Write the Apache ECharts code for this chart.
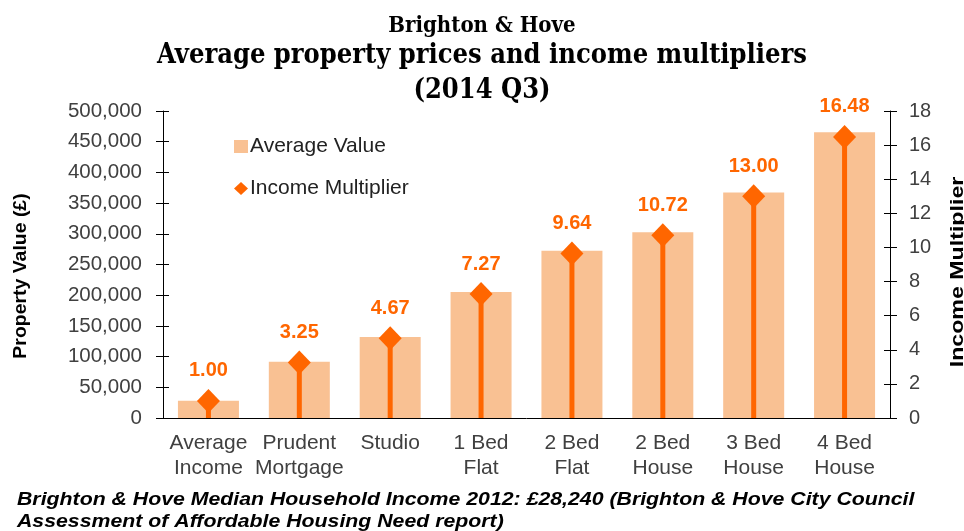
<!DOCTYPE html>
<html>
<head>
<meta charset="utf-8">
<script src="https://cdn.jsdelivr.net/npm/echarts@6/dist/echarts.min.js"></script>
<style>
  html, body { margin: 0; padding: 0; background: #fff; }
  #chart { width: 964px; height: 531px; }
</style>
</head>
<body>
<div id="chart"></div>
<script>
// categories on the x axis
const categories = ['Average\nIncome', 'Prudent\nMortgage', 'Studio', '1 Bed\nFlat', '2 Bed\nFlat', '2 Bed\nHouse', '3 Bed\nHouse', '4 Bed\nHouse']
// average property value (£)
const averageValue = [28240, 91780, 131900, 205300, 272200, 302700, 367100, 465400]
// income multiplier
const incomeMultiplier = [1.00, 3.25, 4.67, 7.27, 9.64, 10.72, 13.00, 16.48]

const barColor = '#F9C193'
const lineColor = '#FF6600'
const textColor = '#404040'
const serif = '"DejaVu Serif Condensed", "Liberation Serif", serif'

// extra axes only used to draw the inner half of the crossing ticks
const innerTickY = (min, max, interval, position) => ({
  type: 'value', min, max, interval, position,
  axisLine: { show: false },
  axisTick: { show: true, inside: true, length: 6, lineStyle: { color: '#000' } },
  axisLabel: { show: false },
  splitLine: { show: false }
})

const chart = echarts.init(document.getElementById('chart'))
chart.setOption({
  animation: false,
  title: [
    {
      text: 'Brighton & Hove',
      left: 'center',
      top: 8,
      textStyle: { fontFamily: serif, fontWeight: 'bold', fontSize: 22, lineHeight: 26, color: '#000' }
    },
    {
      text: 'Average property prices and income multipliers\n(2014 Q3)',
      left: 'center',
      top: 33,
      textStyle: { fontFamily: serif, fontWeight: 'bold', fontSize: 27, lineHeight: 35, color: '#000' }
    }
  ],
  legend: {
    orient: 'vertical',
    left: 229,
    top: 131,
    itemGap: 21,
    itemWidth: 14,
    itemHeight: 13,
    textStyle: { fontFamily: 'Liberation Sans', fontSize: 21, lineHeight: 20, color: '#222', padding: [0, 0, 0, -3] },
    data: [
      { name: 'Average Value', icon: 'rect' },
      { name: 'Income Multiplier', icon: 'diamond' }
    ]
  },
  grid: { left: 163, right: 74, top: 111, bottom: 113 },
  xAxis: [
    {
      type: 'category',
      data: categories,
      axisLine: { lineStyle: { color: '#000' } },
      axisTick: { length: 7, lineStyle: { color: '#000' } },
      axisLabel: { fontFamily: 'Liberation Sans', fontSize: 21, color: textColor, lineHeight: 25, margin: 13, interval: 0 }
    },
    {
      type: 'category',
      data: categories,
      position: 'bottom',
      axisLine: { show: false },
      axisTick: { inside: true, length: 6, lineStyle: { color: '#000' } },
      axisLabel: { show: false }
    }
  ],
  yAxis: [
    {
      type: 'value',
      min: 0,
      max: 500000,
      interval: 50000,
      position: 'left',
      axisLine: { show: true, lineStyle: { color: '#000' } },
      axisTick: { show: true, length: 7, lineStyle: { color: '#000' } },
      axisLabel: {
        fontFamily: 'Liberation Sans', fontSize: 20.5, color: textColor, margin: 21,
        formatter: v => v.toLocaleString('en-GB')
      },
      splitLine: { show: false }
    },
    {
      type: 'value',
      min: 0,
      max: 18,
      interval: 2,
      position: 'right',
      axisLine: { show: true, lineStyle: { color: '#000' } },
      axisTick: { show: true, length: 7, lineStyle: { color: '#000' } },
      axisLabel: { fontFamily: 'Liberation Sans', fontSize: 20, color: textColor, margin: 19 },
      splitLine: { show: false }
    },
    innerTickY(0, 500000, 50000, 'left'),
    innerTickY(0, 18, 2, 'right')
  ],
  series: [
    {
      name: 'Average Value',
      type: 'bar',
      yAxisIndex: 0,
      barWidth: 61,
      itemStyle: { color: barColor },
      data: averageValue
    },
    {
      name: 'drop',
      type: 'pictorialBar',
      yAxisIndex: 1,
      symbol: 'rect',
      symbolSize: [5, '100%'],
      itemStyle: { color: lineColor },
      z: 3,
      data: incomeMultiplier
    },
    {
      name: 'Income Multiplier',
      type: 'scatter',
      yAxisIndex: 1,
      symbol: 'diamond',
      symbolSize: [23, 24],
      itemStyle: { color: lineColor, opacity: 1 },
      z: 4,
      label: {
        show: true,
        position: 'top',
        distance: 8,
        fontFamily: 'Liberation Sans',
        fontWeight: 'bold',
        fontSize: 20,
        color: lineColor,
        formatter: p => p.value.toFixed(2)
      },
      data: incomeMultiplier
    }
  ],
  graphic: [
    {
      type: 'text',
      x: 21,
      y: 276,
      rotation: Math.PI / 2,
      scaleX: 1.08,
      style: {
        text: 'Property Value (£)',
        font: 'bold 18px "Liberation Sans"',
        fill: '#000',
        align: 'center',
        verticalAlign: 'middle'
      }
    },
    {
      type: 'text',
      x: 958,
      y: 272,
      rotation: Math.PI / 2,
      scaleX: 1.22,
      style: {
        text: 'Income Multiplier',
        font: 'bold 19px "Liberation Sans"',
        fill: '#000',
        align: 'center',
        verticalAlign: 'middle'
      }
    },
    {
      type: 'text',
      x: 17,
      y: 489,
      scaleX: 1.12,
      style: {
        text: 'Brighton & Hove Median Household Income 2012: £28,240 (Brighton & Hove City Council\nAssessment of Affordable Housing Need report)',
        font: 'italic bold 19px "Liberation Sans"',
        lineHeight: 22,
        fill: '#000'
      }
    }
  ]
})
</script>
</body>
</html>
